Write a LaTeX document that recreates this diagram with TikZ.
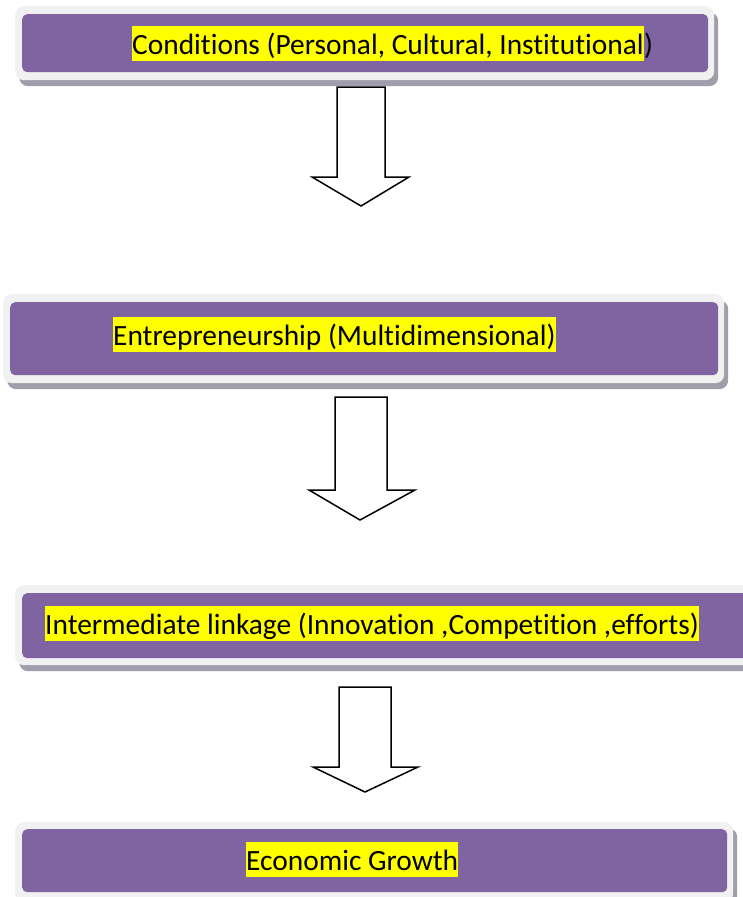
\documentclass[tikz,border=0pt]{standalone}
\usepackage{fontspec}
\setmainfont{Carlito}[Ligatures=NoCommon]
\usetikzlibrary{shadows}
\definecolor{boxpurple}{HTML}{8064A2}
\definecolor{shellgrey}{HTML}{F1F1F1}
\definecolor{shadowgrey}{HTML}{A29DAA}
\definecolor{marker}{HTML}{FFFF00}
\tikzset{
  shellbox/.style={draw=none, fill=shellgrey, rounded corners=9pt, anchor=north west,
    inner sep=0pt, drop shadow={shadow xshift=4pt, shadow yshift=-6pt, fill=shadowgrey, opacity=1}},
  corebox/.style={draw=none, fill=boxpurple, rounded corners=5pt, anchor=north west, inner sep=0pt},
  marked/.style={fill=marker, inner xsep=0pt, inner ysep=0pt, text height=28pt, text depth=7pt,
    anchor=base west, font=\fontsize{29.4}{35}\selectfont},
  plain/.style={inner sep=0pt, text height=28pt, text depth=7pt, anchor=base west,
    font=\fontsize{29.4}{35}\selectfont},
  blockarrow/.style={draw=black, fill=white, line width=1.5pt, line join=miter}
}
\begin{document}
\begin{tikzpicture}[x=1pt,y=-1pt]
  \useasboundingbox (0,0) rectangle (742,897);
  \fill[white] (0,0) rectangle (742,897);

  % Stage 1: conditions
  \node[shellbox, minimum width=699pt, minimum height=74pt] (shell1) at (15,6) {};
  \node[corebox, minimum width=686pt, minimum height=58pt] (core1) at (22,14) {};
  \node[marked] (t1) at (132,54) {Conditions (Personal, Cultural, Institutional};
  \node[plain] (t1p) at (t1.base east) {)};

  % Stage 2: entrepreneurship
  \node[shellbox, minimum width=721pt, minimum height=89pt] (shell2) at (3,294) {};
  \node[corebox, minimum width=708pt, minimum height=73pt] (core2) at (10,302) {};
  \node[marked] (t2) at (113,345) {Entrepreneurship (Multidimensional)};

  % Stage 3: intermediate linkage
  \node[shellbox, minimum width=740pt, minimum height=80pt] (shell3) at (15,585) {};
  \node[corebox, minimum width=730pt, minimum height=65pt] (core3) at (22,593) {};
  \node[marked] (t3) at (45,634) {Intermediate linkage (Innovation ,Competition ,efforts)};

  % Stage 4: economic growth
  \node[shellbox, minimum width=718pt, minimum height=80pt] (shell4) at (15,822) {};
  \node[corebox, minimum width=705pt, minimum height=63pt] (core4) at (22,829) {};
  \node[marked] (t4) at (246,870) {Economic Growth};

  % Block arrows between the stages
  \draw[blockarrow] (337,87) -- (385,87) -- (385,177) -- (409,177) -- (361,206)
    -- (312,177) -- (337,177) -- cycle;
  \draw[blockarrow] (335,397) -- (387,397) -- (387,490) -- (415,490) -- (360,520)
    -- (309,490) -- (335,490) -- cycle;
  \draw[blockarrow] (339,687) -- (391,687) -- (391,767) -- (418,767) -- (365,792)
    -- (313,767) -- (339,767) -- cycle;
\end{tikzpicture}
\end{document}
